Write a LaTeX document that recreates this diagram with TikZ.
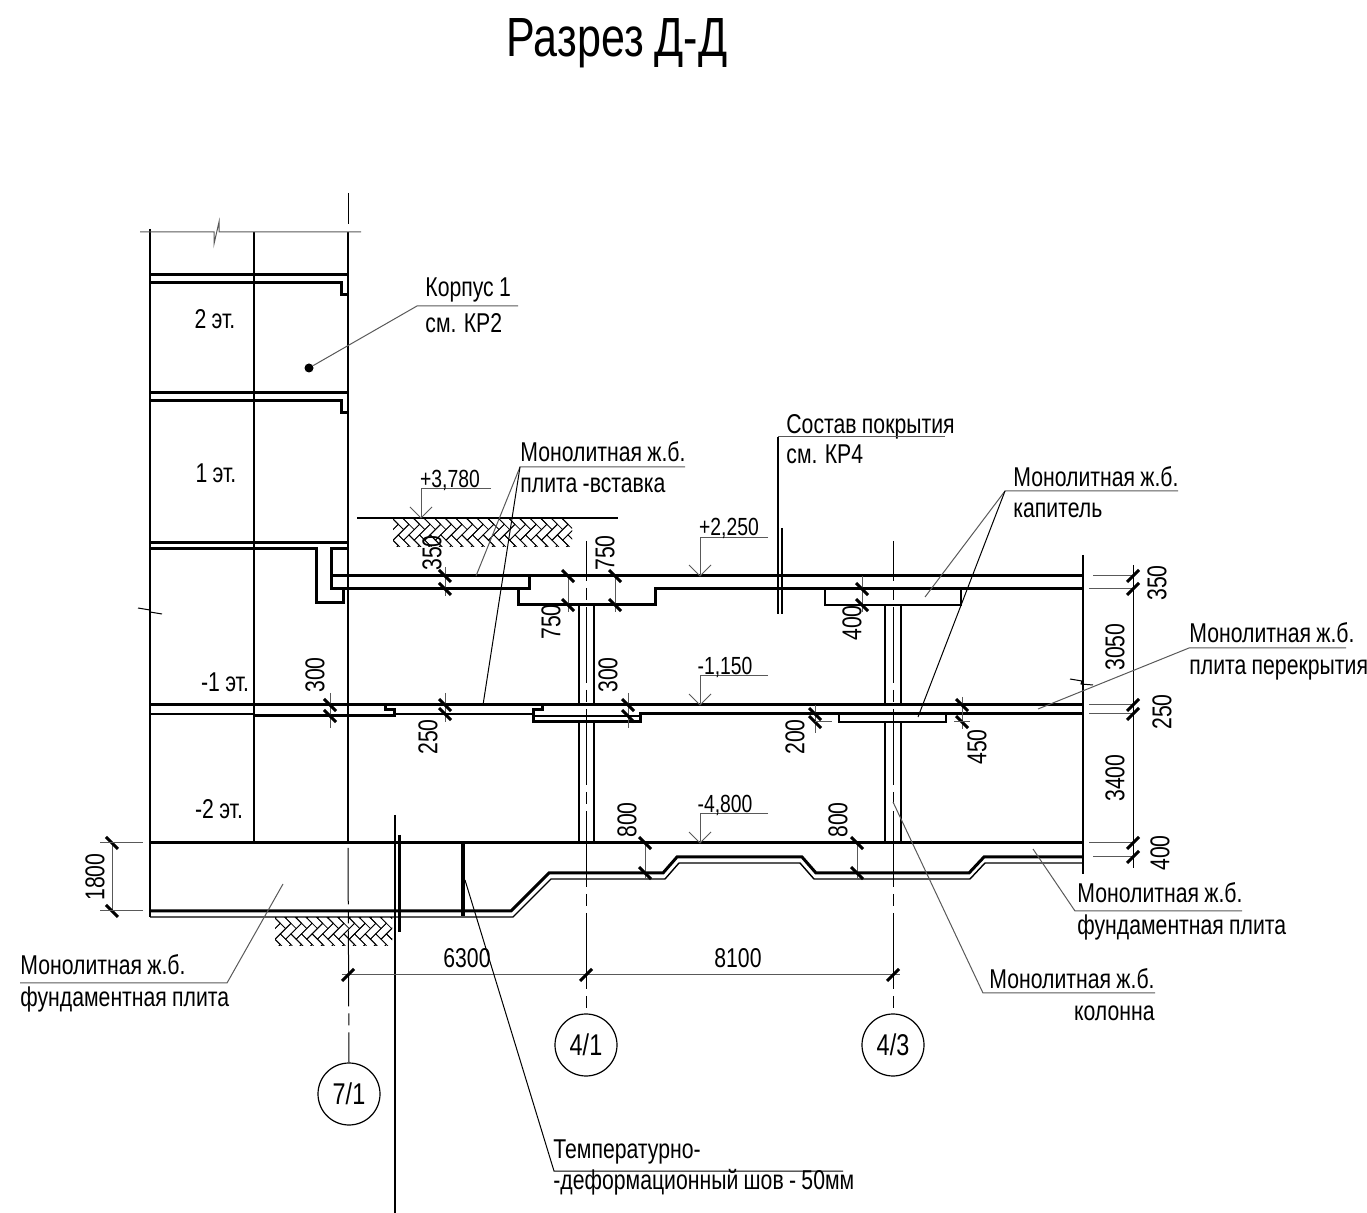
\documentclass[tikz,border=0pt]{standalone}
\usepackage{fontspec}
\setmainfont{Liberation Sans}[FakeStretch=0.78, WordSpace=0.9]
\usetikzlibrary{positioning}

\tikzset{
	slabline/.style={line width=1.5pt, line join=miter},
	wallline/.style={line width=1pt},
	thinline/.style={line width=0.5pt},
	grayline/.style={line width=0.5pt, black!65},
	axisline/.style={line width=0.5pt, dash pattern=on 38pt off 3.5pt on 6pt off 3.5pt},
	dimtick/.style={line width=1.5pt},
	note/.style={anchor=base west, inner sep=0pt, font=\fontsize{13.6}{15}\selectfont},
	dimtxt/.style={inner sep=0pt, font=\fontsize{13.6}{15}\selectfont},
	lvltxt/.style={inner sep=0pt, font=\fontsize{12.4}{15}\selectfont},
	bubble/.style={draw, circle, line width=0.6pt, minimum size=31pt, inner sep=0pt, font=\fontsize{15}{16}\selectfont}
}

\begin{document}
\begin{tikzpicture}[x=0.5pt, y=-0.5pt]
	\useasboundingbox (0,0) rectangle (1367,1213);

	% Title
	\node[inner sep=0pt, font=\fontsize{27.6}{30}\selectfont] (title) at (617,43) {Разрез Д-Д};

	% Walls of the tall block
	\draw[thinline, line width=0.7pt] (150,229) -- (150,917);
	\draw[wallline] (254,232) -- (254,843);
	\draw[wallline] (348,232) -- (348,843);
	\draw[grayline] (140,232) -- (214,232) -- (214,244) -- (219,222) -- (219,232) -- (361,232);
	\draw[thinline] (138,608) -- (150,610) -- (150,612) -- (162,614);

	% Floor slabs of the tall block
	\foreach \y in {275,393} {
		\draw[slabline] (150,\y) -- (348,\y);
		\draw[slabline] (150,\y+7.5) -- (341,\y+7.5) -- (341,\y+19.5) -- (348,\y+19.5);
	}
	\draw[slabline] (150,543) -- (348,543);
	\draw[slabline] (150,549) -- (316,549) -- (316,603) -- (343,603) -- (343,589);
	\draw[slabline] (348,549) -- (331,549) -- (331,589) -- (529,589) -- (529,576);

	% Roof slab and its drops
	\draw[slabline] (331,576) -- (1083,576);
	\draw[slabline] (518,589) -- (518,605) -- (655,605) -- (655,589) -- (1083,589);
	\draw[wallline] (825,589) -- (825,605) -- (961,605) -- (961,589);

	% Middle slab
	\draw[slabline] (150,705) -- (1083,705);
	\draw[wallline] (150,714) -- (254,714);
	\draw[slabline] (254,716) -- (394,716) -- (394,710) -- (385,710) -- (385,705);
	\draw[wallline] (394,714) -- (533,714);
	\draw[slabline] (542,705) -- (542,710) -- (533,710) -- (533,722) -- (640,722) -- (640,714) -- (1083,714);
	\draw[wallline] (533,716) -- (640,716);
	\draw[wallline] (839,714) -- (839,722) -- (946,722) -- (946,714);

	% Columns
	\foreach \x in {579,594,885,901} {
		\draw[wallline] (\x,605) -- (\x,705);
		\draw[wallline] (\x,722) -- (\x,843);
	}

	% Foundation plate
	\draw[slabline] (150,843) -- (1083,843);
	\draw[slabline] (150,911) -- (511,911) -- (549,873) -- (663,873) -- (677,857) -- (802,857) -- (816,873) -- (969,873) -- (984,857) -- (1083,857);
	\draw[thinline, line width=0.7pt] (150,917) -- (513,917) -- (551,879) -- (665,879) -- (679,863) -- (800,863) -- (814,879) -- (970,879) -- (985,863) -- (1083,863);

	% Right edge with break
	\draw[thinline, line width=0.7pt] (1083,555) -- (1083,874);
	\draw[thinline] (1070,679) -- (1082,681) -- (1081,684) -- (1093,685);

	% Joints
	\draw[line width=1.5pt] (399,835) -- (399,932);
	\draw[thinline, line width=0.7pt] (395,815) -- (395,1213);
	\draw[line width=2pt] (463,843) -- (463,916);
	\draw[line width=1.3pt] (782,528) -- (782,614);
	\draw[thinline, line width=0.7pt] (778,437) -- (778,614);

	% Ground
	\draw[wallline] (357,518) -- (618,518);
	\foreach \hx/\hy/\hw in {393/519/179,275/918/117} {
		\begin{scope}
			\clip (\hx,\hy) rectangle (\hx+\hw,\hy+28);
			\begin{scope}[shift={(\hx,\hy)}, rotate=45, x=3.75pt, y=3.75pt]
				\foreach \i in {-3,...,20}
					\foreach \j in {-2,-1,0,1}
						\draw[thinline, line width=0.4pt, shift={(\i+2*\j,-\i+2*\j)}] (0,0) rectangle (2,1) (2,0) rectangle (3,2);
			\end{scope}
		\end{scope}
	}

	% Grid axes
	\node[bubble] (ax71) at (349,1094) {7/1};
	\node[bubble] (ax41) at (586,1045) {4/1};
	\node[bubble] (ax43) at (893,1045) {4/3};
	\coordinate (top71) at (348,193);
	\coordinate (end71) at (348,224);
	\coordinate (low71) at (348,848);
	\coordinate (top41) at (586,541);
	\coordinate (top43) at (893,541);
	\draw[thinline] (top71) -- (end71);
	\draw[axisline, dash phase=23pt] (ax71.north) -- (low71);
	\draw[axisline, dash phase=18pt] (top41) -- (ax41.north);
	\draw[axisline, dash phase=18pt] (top43) -- (ax43.north);

	% Horizontal dimension line
	\draw[grayline] (342,975) -- (900,975);
	\foreach \x in {348,586,893} {
		\draw[dimtick] (\x-6,981) -- (\x+6,969);
	}
	\node[dimtxt] (d6300) at (467,958) {6300};
	\node[dimtxt] (d8100) at (738,958) {8100};

	% Small vertical dimensions
	\foreach \x/\a/\b in {445/567/596,568/576/612,615/576/612,330/693/728,445/693/722,628/693/728,815/705/733,962/697/729,862/576/612,645/843/880,857/843/880,112/843/911} {
		\draw[grayline] (\x,\a) -- (\x,\b);
	}
	\foreach \x/\y in {445/576,445/589,568/576,568/605,615/576,615/605,330/705,330/716,445/705,445/714,628/705,628/716,815/714,815/722,962/705,962/722,862/589,862/605,645/843,645/873,857/843,857/873,112/843,112/911} {
		\draw[dimtick] (\x-6,\y-6) -- (\x+6,\y+6);
	}
	\draw[grayline] (100,843) -- (143,843);
	\draw[grayline] (100,911) -- (143,911);
	\draw[grayline] (815,722) -- (832,722);
	\draw[grayline] (954,722) -- (970,722);

	% Dimension chain on the right
	\draw[thinline] (1133,565) -- (1133,868);
	\foreach \y/\a in {576/1093,589/1089,705/1089,714/1089,843/1089,857/1093} {
		\draw[grayline] (\a,\y) -- (1133,\y);
		\draw[dimtick] (1127,\y+6) -- (1139,\y-6);
	}

	% Rotated dimension texts
	\foreach \x/\y/\t/\n in {432/553/350/da,605/553/750/db,551/622/750/dc,315/675/300/dd,428/737/250/de,608/675/300/df,795/737/200/dg,977/747/450/dh,852/623/400/di,627/820/800/dj,838/820/800/dk,95/877/1800/dl,1157/583/350/dm,1115/647/3050/dn,1162/712/250/do,1115/778/3400/dp,1160/853/400/dq} {
		\node[dimtxt, rotate=90] (\n) at (\x,\y) {\t};
	}

	% Storey labels
	\node[dimtxt] (st2) at (215,319) {2 эт.};
	\node[dimtxt] (st1) at (216,473) {1 эт.};
	\node[dimtxt] (stm1) at (225,682) {-1 эт.};
	\node[dimtxt] (stm2) at (219,809) {-2 эт.};

	% Level marks
	\foreach \x/\ya/\yb/\xe/\tx/\ty/\t/\n in {421/489/518/491/450/480/+3{,}780/lva,700/538/576/768/729/528/+2{,}250/lvb,700/676/705/768/725/667/-1{,}150/lvc,700/814/843/768/725/805/-4{,}800/lvd} {
		\draw[grayline] (\xe,\ya) -- (\x,\ya) -- (\x,\yb);
		\draw[grayline] (\x-11,\yb-11) -- (\x,\yb) -- (\x+11,\yb-11);
		\node[lvltxt] (\n) at (\tx,\ty) {\t};
	}

	% Tower note with a dot
	\node[note] (korpA) at (425,297) {Корпус 1};
	\node[note, below=18pt of korpA.base west, anchor=base west] (korpB) {см. КР2};
	\coordinate (korpK) at (417,306);
	\coordinate (korpE) at (518,306);
	\node[circle, fill, inner sep=0pt, minimum size=4.5pt] (korpD) at (309,368) {};
	\draw[grayline] (korpE) -- (korpK) -- (korpD);

	% Insert slab note
	\node[note] (instA) at (520,462) {Монолитная ж.б.};
	\node[note, below=15.5pt of instA.base west, anchor=base west] (instB) {плита -вставка};
	\coordinate (instK) at (520,467);
	\coordinate (instE) at (685,467);
	\coordinate (instP) at (476,576);
	\coordinate (instQ) at (483,705);
	\draw[grayline] (instE) -- (instK) -- (instP);
	\draw[thinline] (instK) -- (instQ);

	% Roof build-up note
	\node[note] (roofA) at (786,434) {Состав покрытия};
	\node[note, below=15pt of roofA.base west, anchor=base west] (roofB) {см. КР4};
	\coordinate (roofK) at (778,437);
	\coordinate (roofE) at (945,437);
	\draw[grayline] (roofK) -- (roofE);

	% Column head note
	\node[note] (capA) at (1013,487) {Монолитная ж.б.};
	\node[note, below=15.5pt of capA.base west, anchor=base west] (capB) {капитель};
	\coordinate (capK) at (1005,491);
	\coordinate (capE) at (1178,491);
	\coordinate (capP) at (925,597);
	\coordinate (capQ) at (918,717);
	\draw[grayline] (capE) -- (capK) -- (capP);
	\draw[thinline] (capK) -- (capQ);

	% Floor slab note
	\node[note] (flrA) at (1189,643) {Монолитная ж.б.};
	\node[note, below=16pt of flrA.base west, anchor=base west] (flrB) {плита перекрытия};
	\coordinate (flrK) at (1189,648);
	\coordinate (flrE) at (1346,648);
	\coordinate (flrP) at (1038,709);
	\draw[grayline] (flrE) -- (flrK) -- (flrP);

	% Foundation note on the right
	\node[note] (fndA) at (1077,903) {Монолитная ж.б.};
	\node[note, below=16pt of fndA.base west, anchor=base west] (fndB) {фундаментная плита};
	\coordinate (fndK) at (1075,911);
	\coordinate (fndE) at (1242,911);
	\coordinate (fndP) at (1033,849);
	\draw[grayline] (fndE) -- (fndK) -- (fndP);

	% Column note
	\node[note, anchor=base east] (colA) at (1155,989) {Монолитная ж.б.};
	\node[note, below=16pt of colA.base east, anchor=base east] (colB) {колонна};
	\coordinate (colK) at (983,993);
	\coordinate (colE) at (1155,993);
	\coordinate (colP) at (893,802);
	\draw[grayline] (colE) -- (colK) -- (colP);

	% Foundation note on the left
	\node[note] (lftA) at (20,975) {Монолитная ж.б.};
	\node[note, below=16pt of lftA.base west, anchor=base west] (lftB) {фундаментная плита};
	\coordinate (lftK) at (227,983);
	\coordinate (lftE) at (20,983);
	\coordinate (lftP) at (283,884);
	\draw[grayline] (lftE) -- (lftK) -- (lftP);

	% Expansion joint note
	\node[note] (jntA) at (553,1159) {Температурно-};
	\node[note, below=15pt of jntA.base west, anchor=base west] (jntB) {-деформационный шов - 50мм};
	\coordinate (jntK) at (554,1171);
	\coordinate (jntE) at (843,1171);
	\coordinate (jntP) at (465,880);
	\draw[thinline] (jntE) -- (jntK) -- (jntP);
\end{tikzpicture}
\end{document}
